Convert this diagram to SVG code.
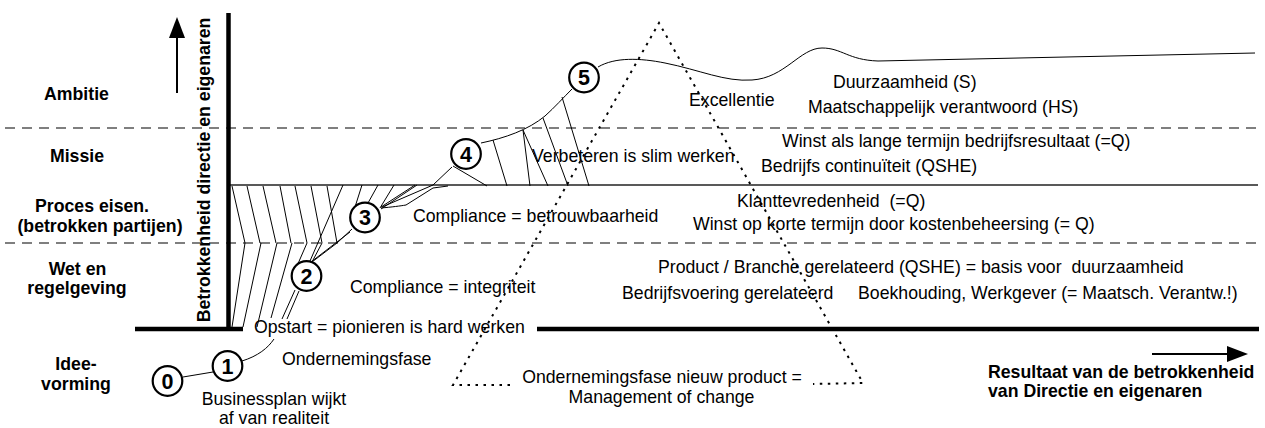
<svg xmlns="http://www.w3.org/2000/svg" width="1265" height="428" viewBox="0 0 1265 428">
<style>
.t{font-family:"Liberation Sans",Arial,Helvetica,sans-serif;font-size:17.7px;fill:#000}
.b{font-weight:bold}
.m{text-anchor:middle}
.num{font-family:"Liberation Sans",Arial,sans-serif;font-size:21.5px;font-weight:bold;text-anchor:middle;fill:#000}
.node{fill:#fff;stroke:#000;stroke-width:2.2}
.axis{stroke:#000;stroke-width:4.5;fill:none;stroke-linecap:butt}
.dash{stroke:#555;stroke-width:1.3;stroke-dasharray:10 7;fill:none}
.solid{stroke:#222;stroke-width:1.4;fill:none}
.ln{stroke:#000;stroke-width:1;fill:none}
.dot{stroke:#000;stroke-width:2;stroke-dasharray:2.5 5.5;fill:none}
.arr{stroke:#000;stroke-width:2;fill:none}
</style>
<defs>
<marker id="ah" markerUnits="userSpaceOnUse" markerWidth="21" markerHeight="16" viewBox="0 0 21 16" refX="0" refY="8" orient="auto">
<path d="M0,0 L21,8 L0,16 Z" fill="#000"/>
</marker>
</defs>

<g id="bands">
<line class="dash" x1="5" y1="128" x2="1258" y2="128"/>
<line class="dash" x1="5" y1="243" x2="1258" y2="243"/>
<line class="solid" x1="228" y1="185" x2="1258" y2="185"/>
</g>

<g id="hatch" class="ln">
<path d="M232,186 L245,243 M247,186 L260,243 M263,186 L276,243 M280,186 L291,243 M295,186 L307,243 M311,186 L322,243 M327,186 L337,243"/>
<path d="M245,243 L232,327 M261,243 L243,327 M277,243 L257,327 M292,243 L271,318 M307,243 L297,266 M322,243 L312,262"/>
<path d="M343,185 L310,261 M362,185 L355,207 M378,185 L368,203 M394,185 L380,208 M417,185 L381,209"/>
<path d="M311,262 L350,232"/>
<path d="M453,166 L487,186 M493,140 L507,186 M523,130 L530,186 M523,130 L548,186 M543,118 L568,186 M562,97 L589,186"/>
</g>

<g id="connectors" class="ln">
<path d="M183,377 L213,372"/>
<path d="M242,361 C258,356 268,348 274,339"/>
<path d="M282,319 L295,290 M287,319 L299,291"/>
<path d="M312,262 L337,243 L352,229"/>
<path d="M381,208 C392,207 400,206 406,205 L433,188 L448,186"/>
<path d="M381,207 L415,185 M382,207 L433,185 L452,167"/>
<path d="M481,143 C505,138 528,130 545,116 C555,107 563,98 572,89"/>
<path d="M598,67 C615,57 640,58 665,63 C700,70 725,82 752,80 C785,78 800,48 822,48 C842,48 848,60 878,61 L1255,53"/>
</g>

<g id="axes">
<line class="axis" x1="228.5" y1="13" x2="228.5" y2="331"/>
<line class="axis" x1="135" y1="329" x2="243" y2="329"/>
<line class="axis" x1="537" y1="329" x2="1259" y2="329"/>
<line class="arr" x1="177" y1="93" x2="177" y2="38" marker-end="url(#ah)"/>
<line class="arr" x1="1152" y1="354" x2="1227" y2="354" marker-end="url(#ah)"/>
</g>

<g id="levels">
<text class="t b m" x="76.5" y="100">Ambitie</text>
<text class="t b m" x="77" y="162">Missie</text>
<text class="t b m" x="92" y="212">Proces eisen.</text>
<text class="t b m" x="100" y="232">(betrokken partijen)</text>
<text class="t b m" x="77.5" y="275">Wet en</text>
<text class="t b m" x="77" y="294">regelgeving</text>
<text class="t b m" x="76" y="370">Idee-</text>
<text class="t b m" x="76" y="390">vorming</text>
<text class="t b m" transform="translate(210,170) rotate(-90)">Betrokkenheid directie en eigenaren</text>
<text class="t b" x="988" y="378">Resultaat van de betrokkenheid</text>
<text class="t b" x="988" y="397">van Directie en eigenaren</text>
</g>

<g id="labels">
<text class="t" x="833" y="88">Duurzaamheid (S)</text>
<text class="t" x="689" y="106">Excellentie</text>
<text class="t" x="808" y="113">Maatschappelijk verantwoord (HS)</text>
<text class="t" x="782" y="147">Winst als lange termijn bedrijfsresultaat (=Q)</text>
<text class="t" x="532" y="162">Verbeteren is slim werken</text>
<text class="t" x="761" y="172">Bedrijfs continuïteit (QSHE)</text>
<text class="t" x="737" y="207" xml:space="preserve">Klanttevredenheid  (=Q)</text>
<text class="t" x="413" y="222">Compliance = betrouwbaarheid</text>
<text class="t" x="693" y="230">Winst op korte termijn door kostenbeheersing (= Q)</text>
<text class="t" x="658" y="273" xml:space="preserve">Product / Branche gerelateerd (QSHE) = basis voor  duurzaamheid</text>
<text class="t" x="350" y="292.5">Compliance = integriteit</text>
<text class="t" x="622" y="299">Bedrijfsvoering gerelateerd</text>
<text class="t" x="858" y="299">Boekhouding, Werkgever (= Maatsch. Verantw.!)</text>
<text class="t" x="254" y="333">Opstart = pionieren is hard werken</text>
<text class="t" x="282" y="365">Ondernemingsfase</text>
<text class="t m" x="662" y="383">Ondernemingsfase nieuw product =</text>
<text class="t m" x="661.5" y="403">Management of change</text>
<text class="t m" x="274" y="405">Businessplan wijkt</text>
<text class="t m" x="274" y="424">af van realiteit</text>
</g>

<g id="change-triangle">
<path class="dot" d="M510,385 L453,385 L659,23 L863,383 L813,384"/>
</g>

<g id="n0"><circle class="node" cx="167.5" cy="381" r="14.8"/><text class="num" x="167.5" y="388.7">0</text></g>
<g id="n1"><circle class="node" cx="227.5" cy="366" r="14.8"/><text class="num" x="227.5" y="373.7">1</text></g>
<g id="n2"><circle class="node" cx="306.5" cy="276" r="14.8"/><text class="num" x="306.5" y="283.7">2</text></g>
<g id="n3"><circle class="node" cx="365" cy="217.5" r="14.8"/><text class="num" x="365" y="225.2">3</text></g>
<g id="n4"><circle class="node" cx="466" cy="154" r="14.8"/><text class="num" x="466" y="161.7">4</text></g>
<g id="n5"><circle class="node" cx="584" cy="77.5" r="14.8"/><text class="num" x="584" y="85.2">5</text></g>
</svg>
